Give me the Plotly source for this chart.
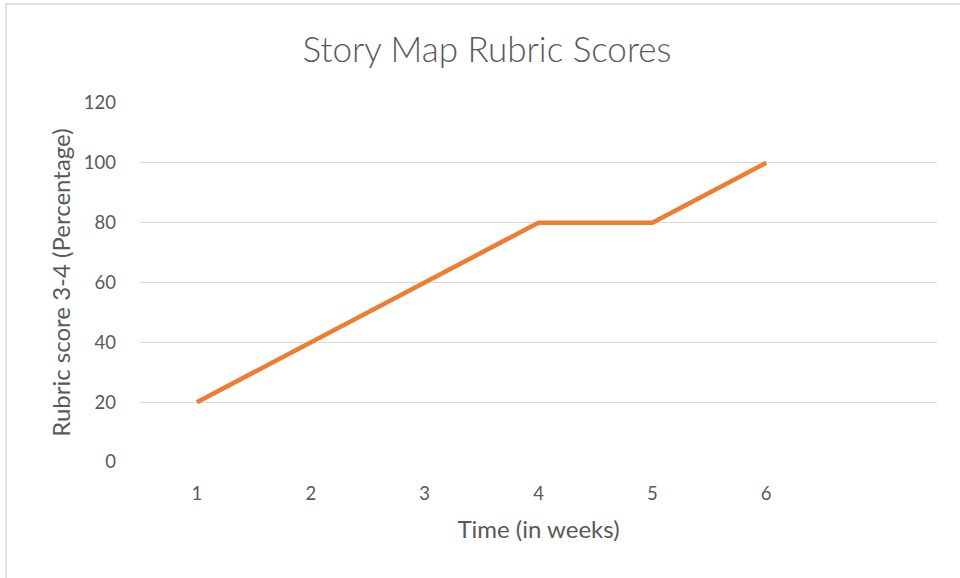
import plotly.graph_objects as go

weeks = [1, 2, 3, 4, 5, 6]
scores = [20, 40, 60, 80, 80, 100]
x_tick_labels = ["1", "2", "3", "4", "5", "6"]
y_ticks = [0, 20, 40, 60, 80, 100, 120]

L, R, T, B = 140, 937, 103, 462
W, H = 960, 578
FONT = "Lato, Open Sans, sans-serif"
GREY = "#595959"

def px(x):
    return (x - L) / (R - L)

def py(y):
    return (B - y) / (B - T)

fig = go.Figure()
fig.add_trace(go.Scatter(
    x=weeks, y=scores, mode="lines",
    line=dict(color="#ED7D31", width=4.5),
    showlegend=False,
))

fig.update_layout(
    width=W, height=H,
    margin=dict(l=L, r=W - R, t=T, b=H - B),
    paper_bgcolor="white", plot_bgcolor="white",
    font=dict(family=FONT, color=GREY),
    title=dict(text="Story Map Rubric Scores", x=487 / W, xanchor="center",
               y=1 - 50 / H, yanchor="middle",
               font=dict(size=35, color=GREY, family=FONT, weight=300)),
    xaxis=dict(range=[0.5, 7.5], tickvals=weeks, ticktext=x_tick_labels,
               showgrid=False, zeroline=False, showline=False, ticks="",
               ticklabelstandoff=18,
               tickfont=dict(size=18.5, color=GREY),
               title=dict(text="Time (in weeks)", font=dict(size=24, color=GREY),
                          standoff=18)),
    yaxis=dict(range=[0, 120], tickvals=y_ticks, showgrid=True,
               gridcolor="#D9D9D9", gridwidth=1.3, zeroline=False,
               showline=False, ticks="", ticklabelstandoff=23,
               tickfont=dict(size=18.5, color=GREY),
               title=dict(text="Rubric score 3-4 (Percentage)",
                          font=dict(size=24, color=GREY), standoff=6)),
    shapes=[dict(type="rect", xref="paper", yref="paper",
                 x0=px(6), x1=px(975), y0=py(590), y1=py(4),
                 line=dict(color="#D9D9D9", width=1.5), fillcolor="rgba(0,0,0,0)",
                 layer="below")],
)

fig.write_html("out.html", config={"displayModeBar": False},
               post_script="document.body.style.margin='0';")
